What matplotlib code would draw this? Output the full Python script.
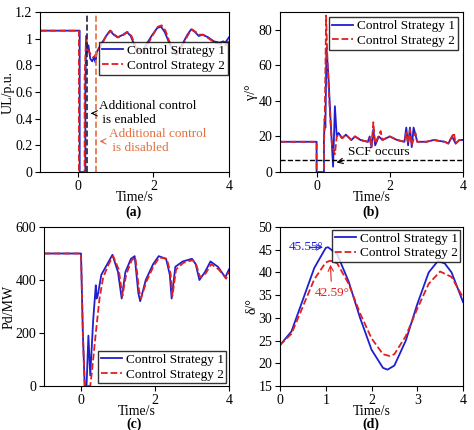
import matplotlib
matplotlib.use("Agg")
import matplotlib.pyplot as plt

plt.rcParams['font.family'] = ['Liberation Serif', 'DejaVu Serif']
plt.rcParams['font.size'] = 10
plt.rcParams['xtick.major.pad'] = 2
plt.rcParams['ytick.major.pad'] = 2
plt.rcParams['mathtext.fontset'] = 'stix'

B = '#1f1fd0'; R = '#e02020'; O = '#e07040'

# (a) UL
ta1 = [-1,0.05,0.05,0.2,0.2,0.22,0.25,0.28,0.33,0.38,0.43,0.47,0.5,0.6,0.75,0.85,0.95,1.05,1.2,1.3,1.4,1.5,1.55,1.6,1.65,1.7,1.8,1.95,2.1,2.2,2.3,2.4,2.55,2.6,2.75,2.9,3.0,3.1,3.2,3.3,3.45,3.6,3.75,3.85,3.9,4.0]
ua1 = [1.06,1.06,0,0,0.6,1.0,0.9,0.95,0.85,0.83,0.86,0.82,0.9,0.95,1.02,1.06,1.03,1.01,1.03,1.05,1.02,0.95,0.91,0.93,0.92,0.9,0.95,1.02,1.08,1.09,1.05,0.98,0.9,0.88,0.95,1.03,1.07,1.05,1.02,1.03,1.01,0.98,0.97,0.98,0.97,1.01]
ta2 = [-1,0.03,0.03,0.18,0.18,0.22,0.25,0.3,0.35,0.4,0.45,0.5,0.6,0.75,0.87,0.97,1.07,1.22,1.32,1.42,1.52,1.57,1.62,1.67,1.72,1.82,1.97,2.12,2.22,2.32,2.42,2.57,2.62,2.77,2.92,3.02,3.12,3.22,3.32,3.47,3.62,3.77,3.87,3.92,4.0]
ua2 = [1.06,1.06,0,0,0.7,1.02,0.92,0.9,0.88,0.86,0.87,0.9,0.94,1.02,1.06,1.03,1.01,1.03,1.05,1.02,0.95,0.9,0.92,0.91,0.89,0.94,1.02,1.09,1.1,1.06,0.98,0.9,0.88,0.95,1.03,1.07,1.05,1.03,1.03,1.0,0.97,0.96,0.96,0.95,0.99]

# (b) gamma
tb1 = [-1,0,0,0.2,0.2,0.22,0.24,0.27,0.32,0.38,0.45,0.5,0.55,0.6,0.7,0.8,0.95,1.05,1.2,1.4,1.45,1.5,1.55,1.6,1.7,1.8,2.0,2.2,2.4,2.45,2.5,2.55,2.6,2.65,2.75,3.0,3.2,3.5,3.6,3.7,3.8,3.9,4.0]
gb1 = [17,17,0,0,17,30,25,70,55,30,3,37,20,22,19,21,18,20,18,17,20,14,24,15,20,18,20,18,17,25,15,25,14,25,17,17,18,17,16,20,16,18,18]
tb2 = [-1,0,0,0.2,0.2,0.22,0.26,0.3,0.36,0.42,0.5,0.55,0.6,0.7,0.8,0.95,1.05,1.2,1.4,1.45,1.5,1.55,1.6,1.75,1.8,2.0,2.2,2.4,2.45,2.5,2.55,2.6,2.7,2.75,3.0,3.2,3.5,3.6,3.75,3.8,3.9,4.0]
gb2 = [17,17,0,0,17,25,88,60,35,15,10,20,21,19,21,18,20,18,17,19,14,28,16,23,18,20,18,17,22,16,24,15,22,17,17,18,17,16,22,16,18,18]

# (c) Pd
tc1 = [-1,0,0.05,0.1,0.15,0.2,0.25,0.33,0.4,0.42,0.45,0.55,0.75,0.85,1.0,1.1,1.2,1.35,1.45,1.55,1.6,1.75,1.95,2.1,2.3,2.4,2.45,2.55,2.75,3.0,3.1,3.2,3.35,3.5,3.7,3.85,3.9,4.0]
pc1 = [500,500,200,0,0,190,40,250,380,330,340,420,470,495,430,330,430,480,490,350,320,400,460,490,480,420,330,450,470,480,460,400,430,470,450,420,410,440]
tc2 = [-1,0,0.05,0.1,0.25,0.3,0.4,0.5,0.6,0.75,0.87,1.02,1.12,1.22,1.37,1.47,1.57,1.62,1.77,1.97,2.12,2.32,2.42,2.47,2.57,2.77,3.02,3.12,3.22,3.37,3.52,3.72,3.87,3.92,4.0]
pc2 = [500,500,200,0,0,60,200,330,410,460,490,440,340,420,475,485,360,330,395,455,485,480,425,340,440,465,475,455,410,425,460,440,415,405,430]

# (d) delta
td1 = [0,0.25,0.5,0.75,1.0,1.05,1.25,1.5,1.75,2.0,2.25,2.35,2.5,2.75,3.0,3.25,3.45,3.6,3.75,4.0]
dd1 = [24,27,34,41,45.4,45.55,44,38,30,23,19,18.6,19.5,25,33,40,42.5,42,40,33.5]
td2 = [0,0.25,0.5,0.75,1.0,1.1,1.25,1.5,1.75,2.0,2.25,2.4,2.5,2.75,3.0,3.25,3.5,3.75,4.0]
dd2 = [24,26.5,32.5,38.5,42.2,42.59,42,37.5,31,25.5,22,21.6,22,26,32,37.5,40.2,39,34.5]

fig = plt.figure(figsize=(4.74, 4.3), dpi=100)
W, H = 474, 430
def ax_at(l, t, r, b):
    return fig.add_axes([l/W, 1-b/H, (r-l)/W, (b-t)/H])

legkw = dict(fontsize=9.5, handlelength=1.6, borderpad=0.2, labelspacing=0.2, handletextpad=0.3, fancybox=False, edgecolor='black')

ax = ax_at(40, 12, 229, 172)
ax.plot(ta1, ua1, color=B, lw=1.3, label='Control Strategy 1')
ax.plot(ta2, ua2, color=R, lw=1.3, ls='--', label='Control Strategy 2')
ax.axvline(0.25, color='#202040', ls='--', lw=1.2)
ax.axvline(0.47, color=O, ls='--', lw=1.2)
ax.set_xlim(-1, 4); ax.set_ylim(0, 1.2)
ax.set_yticks([0,0.2,0.4,0.6,0.8,1,1.2]); ax.set_yticklabels(['0','0.2','0.4','0.6','0.8','1','1.2'])
ax.set_ylabel('UL/p.u.', labelpad=0); ax.set_xlabel('Time/s', labelpad=-1)
ax.legend(loc='upper right', bbox_to_anchor=(1.0, 0.82), borderaxespad=0.1, **legkw)
ax.annotate('Additional control\n is enabled', xy=(0.27, 0.44), xytext=(0.55, 0.44), va='center', fontsize=9.5,
            arrowprops=dict(arrowstyle='->', color='black', lw=0.8))
ax.annotate('Additional control\n is disabled', xy=(0.5, 0.23), xytext=(0.82, 0.23), va='center', fontsize=9.5, color=O,
            arrowprops=dict(arrowstyle='->', color=O, lw=0.8))

ax = ax_at(280, 12, 463, 172)
ax.plot(tb1, gb1, color=B, lw=1.3, label='Control Strategy 1')
ax.plot(tb2, gb2, color=R, lw=1.3, ls='--', label='Control Strategy 2')
ax.axhline(7, color='black', ls='--', lw=1.0)
ax.set_xlim(-1, 4); ax.set_ylim(0, 90); ax.set_yticks([0,20,40,60,80])
ax.set_ylabel('γ/°', labelpad=0); ax.set_xlabel('Time/s', labelpad=-1)
ax.legend(loc='upper right', borderaxespad=0.4, **legkw)
ax.annotate('SCF occurs', xy=(0.47, 5), xytext=(0.85, 11), va='center', fontsize=9.5,
            arrowprops=dict(arrowstyle='->', color='black', lw=0.8))

ax = ax_at(44, 227, 229, 386)
ax.plot(tc1, pc1, color=B, lw=1.3, label='Control Strategy 1')
ax.plot(tc2, pc2, color=R, lw=1.3, ls='--', label='Control Strategy 2')
ax.set_xlim(-1, 4); ax.set_ylim(0, 600)
ax.set_ylabel('Pd/MW', labelpad=0); ax.set_xlabel('Time/s', labelpad=-1)
ax.legend(loc='lower right', borderaxespad=0.2, **legkw)

ax = ax_at(280, 227, 463, 386)
ax.plot(td1, dd1, color=B, lw=1.3, label='Control Strategy 1')
ax.plot(td2, dd2, color=R, lw=1.3, ls='--', label='Control Strategy 2')
ax.set_xlim(0, 4); ax.set_ylim(15, 50); ax.set_yticks([15,20,25,30,35,40,45,50])
ax.set_ylabel('δ/°', labelpad=0); ax.set_xlabel('Time/s', labelpad=-1)
ax.legend(loc='upper right', borderaxespad=0.2, **legkw)
ax.annotate('45.55°', xy=(1.0, 45.55), xytext=(0.2, 45.5), va='center', fontsize=9.5, color=B,
            arrowprops=dict(arrowstyle='->', color=B, lw=0.8))
ax.annotate('42.59°', xy=(1.1, 42.3), xytext=(0.75, 35.5), va='center', fontsize=9.5, color=R,
            arrowprops=dict(arrowstyle='->', color=R, lw=0.8))

for x, y, s in [(134, 212, '(a)'), (371, 212, '(b)'), (134, 424, '(c)'), (371, 424, '(d)')]:
    fig.text(x/W, 1-y/H, s, ha='center', va='center', fontweight='bold', fontsize=10)

fig.savefig('out.png', dpi=100)
